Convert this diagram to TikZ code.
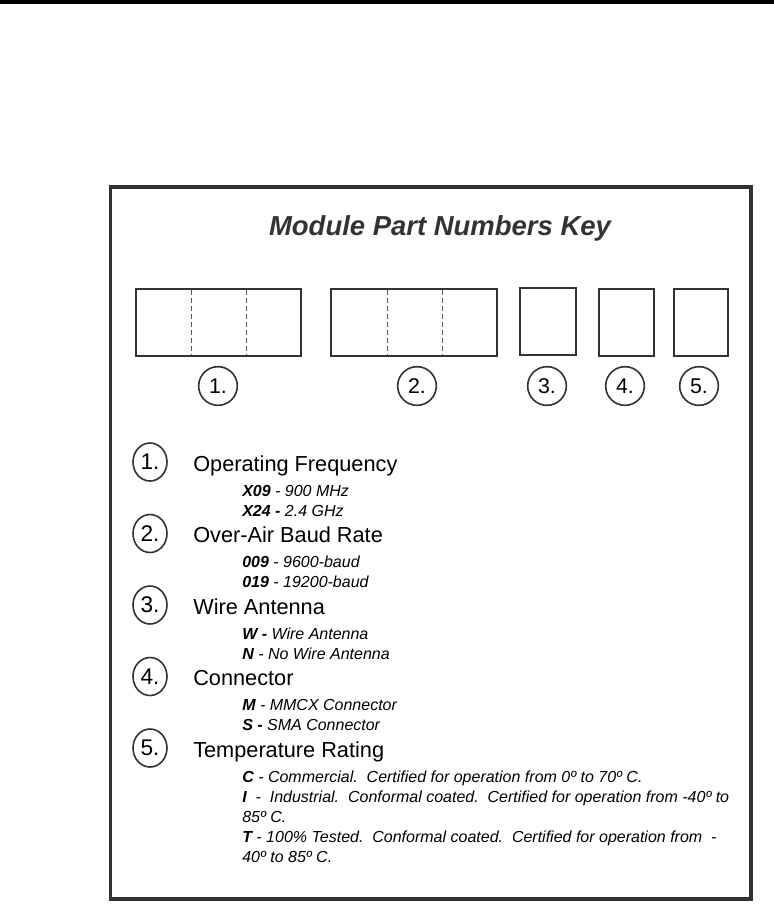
\documentclass[tikz,border=0pt]{standalone}
\usepackage{fontspec}
\setmainfont{Liberation Sans}
\usetikzlibrary{shapes.geometric}
\definecolor{ink}{HTML}{333333}
\begin{document}
\begin{tikzpicture}[x=0.75pt,y=-0.75pt,
  frame/.style={draw=ink, line width=2.6pt},
  slot/.style={draw=ink, line width=1.8pt},
  divider/.style={draw=black!65, line width=0.7pt, dash pattern=on 3.5pt off 2.5pt},
  topnum/.style={circle, draw=ink, line width=1.2pt, minimum size=29pt, inner sep=0pt,
     font=\fontsize{16pt}{18pt}\selectfont},
  keynum/.style={ellipse, draw=ink, line width=1.2pt, minimum width=25.5pt, minimum height=28.5pt, inner sep=0pt,
     font=\fontsize{17pt}{19pt}\selectfont},
  head/.style={anchor=base west, inner sep=0pt, font=\fontsize{16.3pt}{19pt}\selectfont},
  sub/.style={anchor=base west, inner sep=0pt, font=\fontsize{12pt}{14pt}\selectfont\itshape},
  titletext/.style={anchor=base, inner sep=0pt, font=\fontsize{20.6pt}{25pt}\selectfont\bfseries\itshape, text=ink}
]
\useasboundingbox (0,0) rectangle (774,908);
\fill[black] (0,0) rectangle (774,4);
\draw[frame] (110.5,187) rectangle (751,899);

\node[titletext] (title) at (440,235) {Module Part Numbers Key};

% slot boxes
\draw[slot] (136,289) rectangle (301,356);
\draw[divider] (191,290) -- (191,355);
\draw[divider] (246,290) -- (246,355);
\draw[slot] (331,289) rectangle (497,356);
\draw[divider] (387,290) -- (387,355);
\draw[divider] (442,290) -- (442,355);
\draw[slot] (520,288) rectangle (576,355);
\draw[slot] (599,289) rectangle (654,356);
\draw[slot] (674,289) rectangle (728,356);

% top row numbers
\node[topnum] (c1) at (218,386) {1.};
\node[topnum] (c2) at (417,386) {2.};
\node[topnum] (c3) at (547,386) {3.};
\node[topnum] (c4) at (625,386) {4.};
\node[topnum] (c5) at (699,386) {5.};

% key
\node[keynum] (k1) at (150,462) {1.};
\node[head] (h1) at (193,471) {Operating Frequency};
\node[sub] (s11) at (242,496) {\textbf{X09} - 900 MHz};
\node[sub] (s12) at (242,516) {\textbf{X24 -} 2.4 GHz};

\node[keynum] (k2) at (150,533.5) {2.};
\node[head] (h2) at (193,542.5) {Over-Air Baud Rate};
\node[sub] (s21) at (242,567.5) {\textbf{009} - 9600-baud};
\node[sub] (s22) at (242,587.5) {\textbf{019} - 19200-baud};

\node[keynum] (k3) at (150,605) {3.};
\node[head] (h3) at (193,614) {Wire Antenna};
\node[sub] (s31) at (242,639) {\textbf{W -} Wire Antenna};
\node[sub] (s32) at (242,659) {\textbf{N} - No Wire Antenna};

\node[keynum] (k4) at (150,676.5) {4.};
\node[head] (h4) at (193,685.5) {Connector};
\node[sub] (s41) at (242,710.5) {\textbf{M} - MMCX Connector};
\node[sub] (s42) at (242,730.5) {\textbf{S -} SMA Connector};

\node[keynum] (k5) at (150,748) {5.};
\node[head] (h5) at (193,757) {Temperature Rating};
\node[sub] (s51) at (242,782) {\textbf{C} - Commercial.\ \ Certified for operation from 0º to 70º C.};
\node[sub] (s52) at (242,802) {\textbf{I}\ \ -\ \ Industrial.\ \ Conformal coated.\ \ Certified for operation from -40º to};
\node[sub] (s53) at (242,822) {85º C.};
\node[sub] (s54) at (242,842) {\textbf{T} - 100\% Tested.\ \ Conformal coated.\ \ Certified for operation from\ \ -};
\node[sub] (s55) at (242,862) {40º to 85º C.};
\end{tikzpicture}
\end{document}
